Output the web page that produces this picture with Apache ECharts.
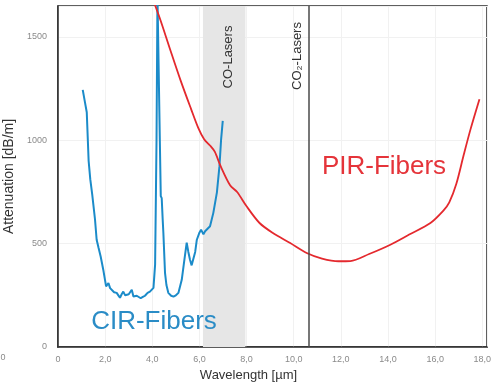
<!DOCTYPE html>
<html>
<head>
<meta charset="utf-8">
<script src="https://cdn.jsdelivr.net/npm/echarts/dist/echarts.min.js"></script>
<style>
  html, body { margin: 0; padding: 0; background: #fff; }
  #main { width: 495px; height: 390px; }
</style>
</head>
<body>
<div id="main"></div>
<script>
// wavelength [um] / attenuation [dB/m]
var cirX = [1.05, 1.15, 1.22, 1.3, 1.37, 1.45, 1.57, 1.64, 1.72, 1.81, 1.92, 2.04, 2.14, 2.21, 2.28, 2.38, 2.49, 2.56, 2.63, 2.7,
  2.77, 2.85, 2.92, 3.0, 3.13, 3.2, 3.34, 3.42, 3.51, 3.6, 3.69, 3.8, 3.9, 4.05, 4.12, 4.18, 4.22, 4.28, 4.32, 4.36,
  4.4, 4.44, 4.47, 4.54, 4.6, 4.68, 4.8, 4.9, 5.0, 5.11, 5.25, 5.36, 5.46, 5.53, 5.6, 5.67, 5.74, 5.82, 5.89, 6.0,
  6.07, 6.17, 6.24, 6.31, 6.45, 6.59, 6.74, 6.85, 6.92, 6.99];
var cirY = [1244, 1180, 1136, 900, 811, 740, 617, 519, 480, 438, 374, 293, 310, 285, 277, 265, 262, 250, 238, 255,
  268, 250, 244, 255, 277, 244, 248, 240, 236, 242, 248, 262, 268, 286, 400, 1000, 1700, 1700, 1000, 730,
  720, 620, 553, 359, 300, 262, 248, 244, 250, 262, 325, 420, 505, 460, 422, 395, 390, 460, 519, 553,
  568, 545, 560, 568, 584, 649, 747, 875, 1005, 1094];

var pirX = [4.0, 4.33, 4.75, 5.2, 5.65, 5.95, 6.2, 6.45, 6.65, 6.9, 7.3, 7.6, 8.0, 8.55, 9.1, 9.85, 10.55, 11.2, 11.9, 12.4,
  13.2, 14.1, 14.9, 15.8, 16.35, 16.6, 16.9, 17.2, 17.5, 17.88];
var pirY = [1690, 1587, 1442, 1290, 1150, 1060, 1005, 975, 945, 875, 783, 750, 681, 600, 553, 503, 455, 428, 415, 416,
  450, 495, 544, 600, 660, 700, 790, 924, 1053, 1199];

var coLaserBand = [6.15, 7.95];
var co2Laser = 10.62;

var chartDom = document.getElementById('main');
var myChart = echarts.init(chartDom);

var cirData = cirX.map(function (x, i) { return [x, cirY[i]]; });
var pirData = pirX.map(function (x, i) { return [x, pirY[i]]; });

var option = {
  animation: false,
  textStyle: { fontFamily: 'Liberation Sans, Arial, sans-serif' },
  grid: {
    left: 58, right: 8, top: 6, bottom: 43,
    containLabel: false,
    outerBoundsMode: 'none',
    show: true,
    borderColor: '#2b2b2b',
    borderWidth: 1.5,
    backgroundColor: '#fff'
  },
  xAxis: {
    type: 'value',
    min: 0,
    max: 18.2,
    interval: 2,
    name: 'Wavelength [µm]',
    nameLocation: 'middle',
    nameGap: 15,
    nameTextStyle: { fontSize: 13, color: '#333', padding: [0, 48, 0, 0] },
    axisLine: { show: true, lineStyle: { color: '#2b2b2b', width: 1.5 } },
    axisTick: { show: false },
    axisLabel: {
      fontSize: 9,
      color: '#8a8a8a',
      margin: 8,
      showMaxLabel: false,
      formatter: function (v) {
        if (v % 2 !== 0) return '';
        return v === 0 ? '0' : v.toFixed(1).replace('.', ',');
      }
    },
    splitLine: { show: true, lineStyle: { color: '#f1f1f1' } }
  },
  yAxis: {
    type: 'value',
    min: 0,
    max: 1650,
    interval: 500,
    name: 'Attenuation [dB/m]',
    nameLocation: 'middle',
    nameGap: 29,
    nameTextStyle: { fontSize: 14, color: '#333' },
    axisLine: { show: true, lineStyle: { color: '#2b2b2b', width: 1.5 } },
    axisTick: { show: false },
    axisLabel: {
      fontSize: 9,
      color: '#8a8a8a',
      margin: 11,
      showMaxLabel: false,
      formatter: function (v) { return v % 500 === 0 ? String(v) : ''; }
    },
    splitLine: { show: true, lineStyle: { color: '#f1f1f1' } }
  },
  series: [
    {
      // laser markers
      type: 'line',
      data: [],
      silent: true,
      z: 1,
      markArea: {
        silent: true,
        itemStyle: { color: '#e6e6e6' },
        data: [[{ xAxis: coLaserBand[0] }, { xAxis: coLaserBand[1] }]]
      },
      markLine: {
        silent: true,
        symbol: 'none',
        label: { show: false },
        lineStyle: { color: '#4a4a4a', width: 1.5, type: 'solid' },
        data: [{ xAxis: co2Laser }]
      }
    },
    {
      name: 'CIR-Fibers',
      type: 'line',
      data: cirData,
      showSymbol: false,
      lineStyle: { color: '#1b8bc9', width: 2 },
      itemStyle: { color: '#1b8bc9' }
    },
    {
      name: 'PIR-Fibers',
      type: 'line',
      data: pirData,
      smooth: 0.3,
      showSymbol: false,
      lineStyle: { color: '#e4292e', width: 1.8 },
      itemStyle: { color: '#e4292e' }
    }
  ],
  graphic: [
    {
      type: 'text', x: 154, y: 322, z: 100, silent: true,
      style: { text: 'CIR-Fibers', fill: '#2a8cc6', font: '26px "Liberation Sans", Arial, sans-serif', align: 'center', verticalAlign: 'middle' }
    },
    {
      type: 'text', x: 384, y: 167, z: 100, silent: true,
      style: { text: 'PIR-Fibers', fill: '#e5343a', font: '26px "Liberation Sans", Arial, sans-serif', align: 'center', verticalAlign: 'middle' }
    },
    {
      type: 'text', x: 228, y: 57, z: 100, rotation: Math.PI / 2, silent: true,
      style: { text: 'CO-Lasers', fill: '#333', font: '13px "Liberation Sans", Arial, sans-serif', align: 'center', verticalAlign: 'middle' }
    },
    {
      type: 'text', x: 297, y: 56, z: 100, rotation: Math.PI / 2, silent: true,
      style: { text: 'CO₂-Lasers', fill: '#333', font: '13px "Liberation Sans", Arial, sans-serif', align: 'center', verticalAlign: 'middle' }
    },
    {
      type: 'text', x: 3, y: 358, z: 100, silent: true,
      style: { text: '0', fill: '#8a8a8a', font: '9px "Liberation Sans", Arial, sans-serif', align: 'center', verticalAlign: 'middle' }
    }
  ]
};

option && myChart.setOption(option);
</script>
</body>
</html>
